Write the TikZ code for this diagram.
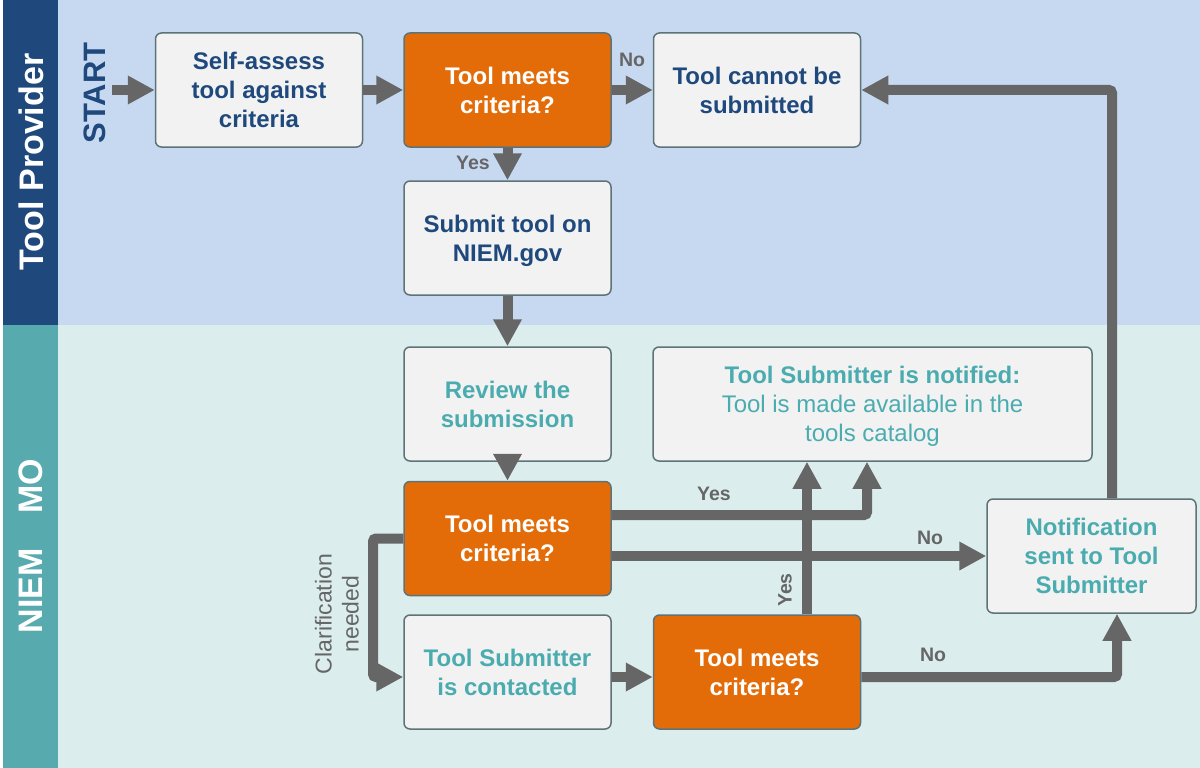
\documentclass[tikz,border=0pt]{standalone}
\usepackage{fontspec}
\setmainfont{Liberation Sans}
\usetikzlibrary{arrows.meta}
\definecolor{laneA}{HTML}{C6D9F1}
\definecolor{laneB}{HTML}{DBEDED}
\definecolor{barA}{HTML}{1F497D}
\definecolor{barB}{HTML}{57AAAE}
\definecolor{dblue}{HTML}{1F497D}
\definecolor{tealtxt}{HTML}{4BACB0}
\definecolor{orng}{HTML}{E36C09}
\definecolor{boxfill}{HTML}{F2F2F2}
\definecolor{boxline}{HTML}{5E7378}
\definecolor{arr}{HTML}{666666}
\tikzset{
  box/.style={draw=boxline, line width=1.5pt, fill=boxfill, rounded corners=6pt,
    minimum width=207pt, minimum height=114pt, inner sep=0pt, align=center,
    font=\fontsize{24}{29}\selectfont\bfseries, text depth=-6pt},
  dec/.style={box, fill=orng, text=white},
  conn/.style={draw=arr, line width=10pt, rounded corners=3pt,
    -{Triangle[length=27pt,width=27pt]}},
  lbl/.style={text=arr, font=\fontsize{19.5}{22}\selectfont\bfseries},
  lane/.style={text=white, rotate=90, font=\fontsize{34}{34}\selectfont\bfseries}
}
\begin{document}
\begin{tikzpicture}[x=1pt,y=-1pt]
\useasboundingbox (0,0) rectangle (1200,768);
% lanes
\fill[white] (0,0) rectangle (1200,768);
\fill[laneA] (3,0) rectangle (1200,325);
\fill[laneB] (3,325) rectangle (1200,768);
\fill[barA] (3,0) rectangle (58,325);
\fill[barB] (3,325) rectangle (58,768);
\node[lane] (lp) at (31,162) {Tool Provider};
\node[lane] (lm) at (31,546) {NIEM\hspace{35pt}MO};
\node[text=dblue, rotate=90, font=\fontsize{31}{31}\selectfont\bfseries] (start) at (95,93) {START};
% boxes
\node[box, text=dblue] (self) at (259,90) {Self-assess\\tool against\\criteria};
\node[dec] (d1) at (507.5,90) {Tool meets\\criteria?};
\node[box, text=dblue] (cannot) at (757,90) {Tool cannot be\\submitted};
\node[box, text=dblue] (submit) at (507.5,238) {Submit tool on\\NIEM.gov};
\node[box, text=tealtxt] (review) at (507.5,404) {Review the\\submission};
\node[box, text=tealtxt, minimum width=439pt] (notified) at (872.5,404)
  {Tool Submitter is notified:\\{\mdseries Tool is made available in the}\\{\mdseries tools catalog}};
\node[dec] (d2) at (507.5,538.5) {Tool meets\\criteria?};
\node[box, text=tealtxt, minimum width=209pt] (notif) at (1091.5,556) {Notification\\sent to Tool\\Submitter};
\node[box, text=tealtxt] (contact) at (507.5,672) {Tool Submitter\\is contacted};
\node[dec] (d3) at (757,672) {Tool meets\\criteria?};
% connectors
\coordinate (s0) at (112,90);
\draw[conn] (s0) -- (self);
\draw[conn] (self) -- (d1);
\draw[conn] (d1) -- (cannot);
\node[lbl] (no1) at (632,60) {No};
\draw[conn] (d1) -- (submit);
\node[lbl] (yes1) at (473,163) {Yes};
\draw[conn] (submit) -- (review);
\draw[conn] (review) -- (d2);
\draw[conn] ([yshift=23.5pt]d2.east) -| ([xshift=-5.5pt]notified.south);
\node[lbl] (yes2) at (714,494) {Yes};
\draw[conn] (d2.east |- notif.west) -- (notif.west);
\node[lbl] (no2) at (930,538) {No};
\coordinate (c1) at (373,677);
\draw[conn] (d2.west) -| (c1) -- (c1 -| contact.west);
\node[text=arr, rotate=90, align=center, font=\fontsize{23}{27}\selectfont] (clar) at (337,614) {Clarification\\needed};
\draw[conn] (contact.east |- c1) -- (d3.west |- c1);
\draw[conn] ([xshift=50pt]d3.north) -- ([xshift=50pt]d3.north |- notified.south);
\node[lbl, rotate=90] (yes3) at (785,590) {Yes};
\draw[conn] (d3.east |- c1) -| ([xshift=25.5pt]notif.south);
\node[lbl] (no3) at (933,655) {No};
\draw[conn] ([xshift=20.5pt]notif.north) |- (cannot.east);
\end{tikzpicture}
\end{document}
